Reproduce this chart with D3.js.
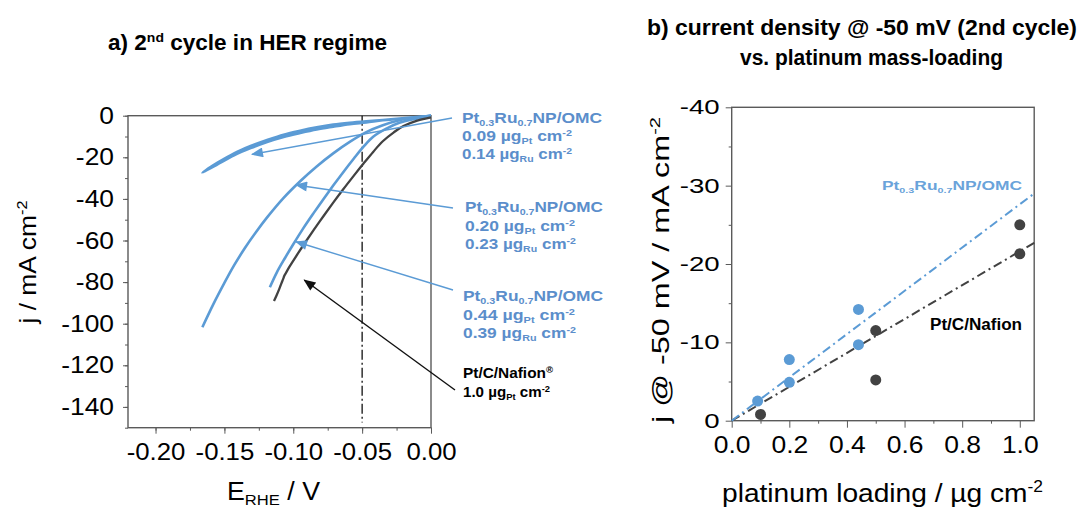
<!DOCTYPE html>
<html>
<head>
<meta charset="utf-8">
<script src="https://cdn.jsdelivr.net/npm/d3@7"></script>
<style>
  body { margin: 0; background: #fff; }
  svg { display: block; font-family: 'Liberation Sans', Arial, sans-serif; }
</style>
</head>
<body>
<svg id="chart" width="1079" height="509"></svg>
<script>
// a) 2nd cycle CVs in the HER regime, [E_RHE / V, j / mA cm-2]
const cvPtRu009 = [
  [0.000, -0.1], [-0.010, -0.8], [-0.023, -1.4], [-0.035, -2.1], [-0.047, -2.7], [-0.059, -3.4],
  [-0.071, -4.3], [-0.083, -5.6], [-0.095, -7.2], [-0.107, -9.1], [-0.119, -11.7], [-0.131, -14.6],
  [-0.143, -18.1], [-0.155, -22.6], [-0.166, -27.4],
  [-0.155, -23.4], [-0.143, -19.1], [-0.131, -15.6], [-0.119, -12.6], [-0.107, -10.2], [-0.095, -8.3],
  [-0.083, -6.6], [-0.071, -5.3], [-0.059, -4.1], [-0.047, -3.2], [-0.035, -2.2], [-0.023, -1.4], [0.000, -0.1]
];
const cvPtRu020 = [
  [0.000, -0.1], [-0.010, -0.8], [-0.023, -2.2], [-0.035, -4.6], [-0.047, -7.9], [-0.059, -12.6],
  [-0.071, -18.1], [-0.083, -24.4], [-0.095, -31.5], [-0.107, -39.5], [-0.119, -48.9], [-0.127, -55.9],
  [-0.135, -63.5], [-0.143, -72.0], [-0.150, -80.4], [-0.158, -90.6], [-0.166, -101.7]
];
const cvPtRu044 = [
  [0.000, -0.1], [-0.010, -1.3], [-0.023, -3.4], [-0.032, -6.1], [-0.042, -10.1], [-0.049, -14.9],
  [-0.056, -20.6], [-0.064, -27.4], [-0.071, -33.6], [-0.078, -40.0], [-0.085, -46.6], [-0.093, -54.4],
  [-0.100, -61.8], [-0.106, -68.4], [-0.112, -75.4], [-0.117, -82.5]
];
const cvPtC = [
  [0.000, -0.8], [-0.010, -2.4], [-0.020, -5.0], [-0.027, -8.0], [-0.035, -12.3], [-0.042, -17.4],
  [-0.049, -23.0], [-0.056, -28.8], [-0.064, -35.6], [-0.071, -41.8], [-0.078, -48.2], [-0.085, -54.8],
  [-0.091, -60.6], [-0.096, -65.6], [-0.101, -70.8], [-0.104, -74.0], [-0.107, -77.6], [-0.106, -76.2],
  [-0.108, -79.6], [-0.110, -83.0], [-0.112, -86.2], [-0.114, -89.1]
];
const cvMarkerE = -0.05;

const aXTicks = [-0.20, -0.15, -0.10, -0.05, 0.00];
const aYTicks = [0, -20, -40, -60, -80, -100, -120, -140];

// callouts: arrow tip in data units, loadings (Pt, Ru) per label
const calloutTips = [[-0.130, -18.6], [-0.098, -33.3], [-0.098, -60.6], [-0.092, -79.0]];
const calloutLabels = [
  ['0.09', '0.14'],
  ['0.20', '0.23'],
  ['0.44', '0.39']
];

// b) j @ -50 mV vs Pt loading
const ptruLoading = [0.09, 0.20, 0.20, 0.44, 0.44];
const ptruCurrent = [-2.5, -7.8, -4.9, -14.2, -9.7];
const ptcLoading = [0.10, 0.50, 0.50, 1.00, 1.00];
const ptcCurrent = [-0.8, -11.5, -5.2, -25.0, -21.3];
const ptruFit = [[0, 0], [1.05, -29.0]];
const ptcFit = [[0, 0], [1.05, -22.7]];

const bXTicks = [0.0, 0.2, 0.4, 0.6, 0.8, 1.0];
const bYTicks = [0, -10, -20, -30, -40];

const blue = '#5b9bd5';
const blueText = '#5b8ecb';
const dark = '#424242';
const frameColor = '#5a5a5a';

const svg = d3.select('#chart');

const defs = svg.append('defs');
function addArrowMarker(id, color) {
  defs.append('marker')
    .attr('id', id)
    .attr('viewBox', '0 0 12 10')
    .attr('refX', 11)
    .attr('refY', 5)
    .attr('markerUnits', 'userSpaceOnUse')
    .attr('markerWidth', 13)
    .attr('markerHeight', 10)
    .attr('orient', 'auto')
    .append('path')
    .attr('d', 'M0,0 L12,5 L0,10 Z')
    .attr('fill', color);
}
addArrowMarker('arrowBlue', blue);
addArrowMarker('arrowDark', '#111');

// widen a text to k times its natural length
function stretch(sel, k) {
  sel.each(function() {
    let w = this.getComputedTextLength();
    d3.select(this).attr('textLength', w * k).attr('lengthAdjust', 'spacingAndGlyphs');
  });
}

// text with sub/superscript parts: 'plain' or ['str', 'sub'|'sup']
function richText(parent, x, y, parts, fs) {
  let t = parent.append('text')
    .attr('x', x)
    .attr('y', y)
    .style('font-size', fs + 'px');
  let shift = 0;
  parts.forEach(function(p) {
    let str = typeof p === 'string' ? p : p[0];
    let kind = typeof p === 'string' ? null : p[1];
    let target = kind === 'sub' ? fs * 0.2 : kind === 'sup' ? -fs * 0.36 : 0;
    t.append('tspan')
      .attr('dy', target - shift)
      .style('font-size', kind ? (fs * 0.62) + 'px' : null)
      .text(str);
    shift = target;
  });
  return t;
}

function drawAxes(g, x, y, opt) {
  let w = x.range()[1] - x.range()[0];
  let h = y.range()[1] - y.range()[0];

  // minor ticks first
  g.append('g')
    .attr('transform', 'translate(0,' + h + ')')
    .call(d3.axisBottom(x).tickValues(opt.xMinor).tickSize(3).tickFormat(''))
    .call(s => s.select('.domain').remove());
  g.append('g')
    .call(d3.axisLeft(y).tickValues(opt.yMinor).tickSize(3).tickFormat(''))
    .call(s => s.select('.domain').remove());

  let xAxis = g.append('g')
    .attr('transform', 'translate(0,' + h + ')')
    .call(d3.axisBottom(x).tickValues(opt.xTicks).tickSize(opt.xTickSize)
      .tickPadding(opt.xPad).tickFormat(opt.xFormat));
  let yAxis = g.append('g')
    .call(d3.axisLeft(y).tickValues(opt.yTicks).tickSize(opt.yTickSize)
      .tickPadding(opt.yPad).tickFormat(opt.yFormat));

  [xAxis, yAxis].forEach(function(a) {
    a.select('.domain').remove();
    a.selectAll('text').attr('fill', '#000').style('font-family', 'Liberation Sans, Arial, sans-serif');
  });
  xAxis.selectAll('text').style('font-size', opt.xFont + 'px').call(stretch, opt.xStretch);
  yAxis.selectAll('text').style('font-size', opt.yFont + 'px').call(stretch, opt.yStretch);
  g.selectAll('.tick line').attr('stroke', frameColor);

  g.append('rect')
    .attr('width', w)
    .attr('height', h)
    .attr('fill', 'none')
    .attr('stroke', frameColor)
    .attr('stroke-width', 1.4);
}

// ---------------- panel a ----------------
let aLeft = 128, aTop = 115.7, aWidth = 303, aHeight = 312;
let ax = d3.scaleLinear().domain([-0.22, 0]).range([0, aWidth]);
let ay = d3.scaleLinear().domain([0, -150]).range([0, aHeight]);
let ga = svg.append('g').attr('transform', 'translate(' + aLeft + ',' + aTop + ')');

drawAxes(ga, ax, ay, {
  xTicks: aXTicks, yTicks: aYTicks,
  xMinor: d3.range(-0.225, 0.001, 0.025).filter(v => v > -0.221),
  yMinor: d3.range(-150, 1, 10),
  xTickSize: 6, xPad: 10, yTickSize: 5, yPad: 9,
  xFormat: d => d.toFixed(2), yFormat: d => String(d),
  xFont: 23, yFont: 24, xStretch: 1.12, yStretch: 1.1
});

ga.append('line')
  .attr('x1', ax(cvMarkerE))
  .attr('x2', ax(cvMarkerE))
  .attr('y1', ay(0))
  .attr('y2', ay(-147.5))
  .attr('stroke', '#111')
  .attr('stroke-width', 1.3)
  .attr('stroke-dasharray', '10,3,2,3');

let cvLine = d3.line()
  .x(d => ax(d[0]))
  .y(d => ay(d[1]))
  .curve(d3.curveCatmullRom.alpha(0.5));

[cvPtRu009, cvPtRu020, cvPtRu044].forEach(function(cv) {
  ga.append('path')
    .datum(cv)
    .attr('d', cvLine)
    .attr('fill', 'none')
    .attr('stroke', blue)
    .attr('stroke-width', 2.6)
    .attr('stroke-linejoin', 'round');
});
ga.append('path')
  .datum(cvPtC)
  .attr('d', cvLine)
  .attr('fill', 'none')
  .attr('stroke', dark)
  .attr('stroke-width', 2.3)
  .attr('stroke-linejoin', 'round');

// callouts
let calloutStarts = [[452, 118], [453, 208], [453, 290], [455, 390]];
calloutTips.forEach(function(tip, i) {
  svg.append('line')
    .attr('x1', calloutStarts[i][0])
    .attr('y1', calloutStarts[i][1])
    .attr('x2', aLeft + ax(tip[0]))
    .attr('y2', aTop + ay(tip[1]))
    .attr('stroke', i < 3 ? blue : '#111')
    .attr('stroke-width', 1.4)
    .attr('marker-end', i < 3 ? 'url(#arrowBlue)' : 'url(#arrowDark)');
});

let ptruName = ['Pt', ['0.3', 'sub'], 'Ru', ['0.7', 'sub'], 'NP/OMC'];
let calloutX = [462, 465, 463];
let calloutY = [[123, 141, 159], [212, 231, 249], [301, 320, 338]];
let calloutW = [[140, 110, 110], [138, 110, 111], [140, 112, 113]];
let notes = svg.append('g').style('font-weight', 'bold');
calloutLabels.forEach(function(lab, i) {
  let g = notes.append('g').attr('fill', blueText);
  richText(g, calloutX[i], calloutY[i][0], ptruName, 15)
    .attr('textLength', calloutW[i][0]).attr('lengthAdjust', 'spacingAndGlyphs');
  richText(g, calloutX[i], calloutY[i][1], [lab[0] + ' µg', ['Pt', 'sub'], ' cm', ['-2', 'sup']], 15)
    .attr('textLength', calloutW[i][1]).attr('lengthAdjust', 'spacingAndGlyphs');
  richText(g, calloutX[i], calloutY[i][2], [lab[1] + ' µg', ['Ru', 'sub'], ' cm', ['-2', 'sup']], 15)
    .attr('textLength', calloutW[i][2]).attr('lengthAdjust', 'spacingAndGlyphs');
});
let ptcNote = notes.append('g').attr('fill', '#000');
richText(ptcNote, 463, 378, ['Pt/C/Nafion', ['®', 'sup']], 15)
  .attr('textLength', 90).attr('lengthAdjust', 'spacingAndGlyphs');
richText(ptcNote, 463, 397, ['1.0 µg', ['Pt', 'sub'], ' cm', ['-2', 'sup']], 15)
  .attr('textLength', 87).attr('lengthAdjust', 'spacingAndGlyphs');

// titles and axis labels, panel a
richText(svg, 108, 49.5, ['a) 2', ['nd', 'sup'], ' cycle  in HER regime'], 22)
  .style('font-weight', 'bold')
  .attr('textLength', 279).attr('lengthAdjust', 'spacingAndGlyphs');

richText(svg, 0, 0, ['j / mA cm', ['-2', 'sup']], 24)
  .attr('transform', 'translate(36,262) rotate(-90)')
  .attr('text-anchor', 'middle')
  .attr('textLength', 123).attr('lengthAdjust', 'spacingAndGlyphs');

richText(svg, 227, 499.5, ['E', ['RHE', 'sub'], ' / V'], 25)
  .attr('textLength', 93).attr('lengthAdjust', 'spacingAndGlyphs');

// ---------------- panel b ----------------
let bLeft = 731.7, bTop = 107.3, bWidth = 302.5, bHeight = 313.4;
let bx = d3.scaleLinear().domain([0, 1.05]).range([0, bWidth]);
let by = d3.scaleLinear().domain([-40, 0]).range([0, bHeight]);
let gb = svg.append('g').attr('transform', 'translate(' + bLeft + ',' + bTop + ')');

drawAxes(gb, bx, by, {
  xTicks: bXTicks, yTicks: bYTicks,
  xMinor: d3.range(0.1, 1.05, 0.2),
  yMinor: d3.range(-35, 0, 10),
  xTickSize: 7, xPad: 9, yTickSize: 6, yPad: 6,
  xFormat: d => d.toFixed(1), yFormat: d => String(d),
  xFont: 23, yFont: 20, xStretch: 1.15, yStretch: 1.38
});

let fitLine = d3.line().x(d => bx(d[0])).y(d => by(d[1]));
gb.append('path')
  .datum(ptcFit)
  .attr('d', fitLine)
  .attr('stroke', dark)
  .attr('stroke-width', 2)
  .attr('stroke-dasharray', '9,4,2,4')
  .attr('fill', 'none');
gb.append('path')
  .datum(ptruFit)
  .attr('d', fitLine)
  .attr('stroke', blue)
  .attr('stroke-width', 2)
  .attr('stroke-dasharray', '9,4,2,4')
  .attr('fill', 'none');

gb.selectAll('circle.ptc')
  .data(d3.zip(ptcLoading, ptcCurrent))
  .enter().append('circle')
  .attr('class', 'ptc')
  .attr('cx', d => bx(d[0]))
  .attr('cy', d => by(d[1]))
  .attr('r', 5.5)
  .attr('fill', dark);
gb.selectAll('circle.ptru')
  .data(d3.zip(ptruLoading, ptruCurrent))
  .enter().append('circle')
  .attr('class', 'ptru')
  .attr('cx', d => bx(d[0]))
  .attr('cy', d => by(d[1]))
  .attr('r', 5.5)
  .attr('fill', blue);

richText(svg, 882, 190, ptruName, 13)
  .attr('fill', '#6aa3da')
  .style('font-weight', 'bold')
  .attr('textLength', 140).attr('lengthAdjust', 'spacingAndGlyphs');
svg.append('text')
  .attr('x', 930)
  .attr('y', 330)
  .style('font-size', '16px')
  .style('font-weight', 'bold')
  .attr('textLength', 92).attr('lengthAdjust', 'spacingAndGlyphs')
  .text('Pt/C/Nafion');

// titles and axis labels, panel b
let titleB = svg.append('g').style('font-weight', 'bold').style('font-size', '22px');
titleB.append('text')
  .attr('x', 647).attr('y', 35)
  .attr('textLength', 430).attr('lengthAdjust', 'spacingAndGlyphs')
  .text('b) current density @ -50 mV (2nd cycle)');
titleB.append('text')
  .attr('x', 740).attr('y', 65)
  .attr('textLength', 263).attr('lengthAdjust', 'spacingAndGlyphs')
  .text('vs. platinum mass-loading');

richText(svg, 0, 0, ['j @ -50 mV / mA cm', ['-2', 'sup']], 24)
  .attr('transform', 'translate(669,270) rotate(-90)')
  .attr('text-anchor', 'middle')
  .attr('textLength', 306).attr('lengthAdjust', 'spacingAndGlyphs');

richText(svg, 722, 501.5, ['platinum loading / µg cm', ['-2', 'sup']], 26)
  .attr('textLength', 321).attr('lengthAdjust', 'spacingAndGlyphs');
</script>
</body>
</html>
